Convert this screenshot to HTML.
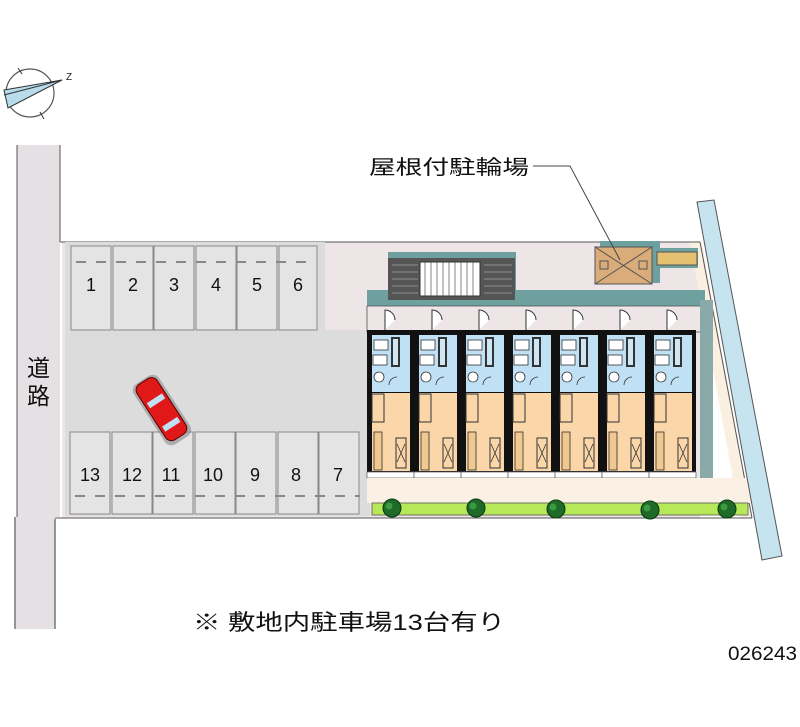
<!DOCTYPE html>
<html><head><meta charset="utf-8"><style>
html,body{margin:0;padding:0;background:#fff;}
svg{display:block;}
text{font-family:"Liberation Sans","Noto Sans CJK JP",sans-serif;}
</style></head><body>
<svg width="800" height="727" viewBox="0 0 800 727" xmlns="http://www.w3.org/2000/svg">
<defs>
<g id="unit">
  <rect x="0" y="330" width="47" height="148" fill="#111"/>
  <rect x="5" y="335" width="38" height="57" fill="#bfe0f5"/>
  <rect x="5" y="393" width="38" height="78" fill="#fad6a8"/>
  <rect x="5" y="394" width="12" height="28" fill="#fad6a8" stroke="#333" stroke-width="1"/>
  <rect x="7" y="340" width="14" height="10" fill="#fff" stroke="#333" stroke-width="0.8"/>
  <rect x="6" y="355" width="14" height="10" fill="#fff" stroke="#333" stroke-width="0.8"/>
  <rect x="24" y="337" width="9" height="30" fill="#333"/>
  <rect x="26" y="339" width="5" height="26" fill="#cfe6f5"/>
  <circle cx="12" cy="377" r="5" fill="#fff" stroke="#333" stroke-width="0.8"/>
  <path d="M22 385 a8 8 0 0 1 8 -8" fill="none" stroke="#333" stroke-width="0.8"/>
  <rect x="7" y="432" width="8" height="38" fill="#f0c890" stroke="#333" stroke-width="0.8"/>
  <rect x="29" y="438" width="10" height="30" fill="#fad6a8" stroke="#333" stroke-width="1"/>
  <path d="M30 444 L38 462 M38 444 L30 462" stroke="#333" stroke-width="0.8"/>
  <path d="M18 330 v-20 a10 10 0 0 1 10 10" fill="#fff" stroke="#333" stroke-width="1"/>
  <rect x="0" y="472" width="47" height="6" fill="#fff" stroke="#666" stroke-width="0.8"/>
</g>
<g id="tree">
  <circle cx="0" cy="0" r="9" fill="#1e6a28" stroke="#0a3a10" stroke-width="1"/>
  <circle cx="-3" cy="-2" r="3.5" fill="#3a9a40"/>
</g>
</defs>

<circle cx="30" cy="93" r="24" fill="none" stroke="#555" stroke-width="1.2"/>
<path d="M4 90 L62 80 L8 108 Z" fill="#b8dcec" stroke="#333" stroke-width="1"/>
<line x1="4" y1="95" x2="62" y2="80" stroke="#333"/>
<text x="66" y="80" font-size="10" fill="#222">Z</text>
<line x1="18" y1="68" x2="22" y2="74" stroke="#333"/>
<line x1="40" y1="112" x2="44" y2="119" stroke="#333"/>

<rect x="17" y="145" width="43" height="372" fill="#e4e0e4"/>
<rect x="15" y="517" width="40" height="112" fill="#e4e0e4"/>
<line x1="17" y1="145" x2="17" y2="517" stroke="#555"/>
<line x1="60" y1="145" x2="60" y2="242" stroke="#555"/>
<line x1="15" y1="517" x2="15" y2="629" stroke="#777" stroke-width="1.5"/>
<line x1="55" y1="519" x2="55" y2="629" stroke="#777" stroke-width="1.5"/>
<text x="27" y="376" font-size="23" fill="#111">道</text>
<text x="27" y="404" font-size="23" fill="#111">路</text>

<rect x="62" y="242" width="640" height="276" fill="#eee5e6"/>
<path d="M702 245 L752 518 L700 518 Z" fill="#fff"/>
<path d="M690 242 L702 242 L752 518 L740 518 Z" fill="#faf0e2"/>
<line x1="60" y1="242" x2="700" y2="242" stroke="#555"/>
<line x1="55" y1="518" x2="752" y2="518" stroke="#555"/>
<line x1="700" y1="242" x2="752" y2="518" stroke="#555"/>
<rect x="65" y="330" width="305" height="100" fill="#dcdcdc"/>
<rect x="65" y="242" width="260" height="90" fill="#dcdcdc"/>
<rect x="65" y="428" width="305" height="88" fill="#dcdcdc"/>
<g fill="#e4e4e4" stroke="#888" stroke-width="1">
  <rect x="71" y="246" width="40" height="84"/><rect x="113" y="246" width="40" height="84"/>
  <rect x="154" y="246" width="40" height="84"/><rect x="196" y="246" width="40" height="84"/>
  <rect x="237" y="246" width="40" height="84"/><rect x="279" y="246" width="38" height="84"/>
  <rect x="70" y="432" width="40" height="82"/><rect x="112" y="432" width="40" height="82"/>
  <rect x="153" y="432" width="40" height="82"/><rect x="195" y="432" width="40" height="82"/>
  <rect x="236" y="432" width="40" height="82"/><rect x="278" y="432" width="40" height="82"/>
  <rect x="319" y="432" width="40" height="82"/>
</g>
<g stroke="#888" stroke-width="2" stroke-dasharray="10,10">
  <line x1="76" y1="262" x2="316" y2="262"/>
  <line x1="75" y1="496" x2="360" y2="496"/>
</g>
<g font-size="18" fill="#111" text-anchor="middle">
  <text x="91" y="291">1</text><text x="133" y="291">2</text><text x="174" y="291">3</text>
  <text x="216" y="291">4</text><text x="257" y="291">5</text><text x="298" y="291">6</text>
  <text x="90" y="481">13</text><text x="132" y="481">12</text><text x="171" y="481">11</text>
  <text x="213" y="481">10</text><text x="255" y="481">9</text><text x="296" y="481">8</text>
  <text x="338" y="481">7</text>
</g>

<g transform="translate(162,410) rotate(-33)">
  <rect x="-15" y="-36" width="30" height="72" rx="8" fill="#888" opacity="0.6"/>
  <rect x="-12" y="-34" width="24" height="66" rx="7" fill="#e01818" stroke="#500" stroke-width="1"/>
  <rect x="-9" y="-14" width="18" height="6" fill="#bfe0f5"/>
  <rect x="-9" y="14" width="18" height="6" fill="#bfe0f5"/>
</g>

<rect x="388" y="252" width="128" height="48" fill="#6fa0a0"/>
<rect x="367" y="290" width="338" height="16" fill="#6fa0a0"/>
<rect x="388" y="258" width="127" height="42" fill="#555"/>
<rect x="420" y="262" width="60" height="34" fill="#fff" stroke="#333"/>
<g stroke="#ccc" stroke-width="0.6">
  <path d="M392 265h26M392 272h26M392 279h26M392 286h26M392 293h26M484 265h28M484 272h28M484 279h28M484 286h28M484 293h28"/>
  <path d="M425 262v34M431 262v34M437 262v34M443 262v34M449 262v34M455 262v34M461 262v34M467 262v34M473 262v34" stroke="#333"/>
</g>
<rect x="367" y="306" width="335" height="26" fill="#eee5e6" stroke="#555" stroke-width="0.8"/>
<rect x="700" y="300" width="13" height="178" fill="#8aaaaa"/>

<use href="#unit" x="367"/><use href="#unit" x="414"/><use href="#unit" x="461"/>
<use href="#unit" x="508"/><use href="#unit" x="555"/><use href="#unit" x="602"/>
<use href="#unit" x="649"/>

<rect x="367" y="478" width="385" height="25" fill="#faf1e4"/>
<rect x="372" y="503" width="376" height="12" fill="#b6e85a" stroke="#555" stroke-width="0.8"/>
<use href="#tree" x="392" y="508"/><use href="#tree" x="476" y="508"/>
<use href="#tree" x="556" y="509"/><use href="#tree" x="650" y="510"/>
<use href="#tree" x="727" y="509"/>

<rect x="600" y="241" width="60" height="42" fill="#6fa0a0"/>
<rect x="595" y="247" width="57" height="37" fill="#d9ac7a" stroke="#555"/>
<path d="M595 247 L652 284 M652 247 L595 284" stroke="#555"/>
<rect x="600" y="261" width="8" height="8" fill="none" stroke="#555"/>
<rect x="639" y="261" width="8" height="8" fill="none" stroke="#555"/>
<rect x="656" y="248" width="42" height="20" fill="#6fa0a0"/>
<rect x="657" y="252" width="40" height="13" fill="#e4c070" stroke="#555"/>

<path d="M697 202 L714 200 L782 556 L762 560 Z" fill="#c6e4f0" stroke="#555" stroke-width="1"/>

<text x="369" y="174" font-size="20" fill="#111" textLength="160" lengthAdjust="spacingAndGlyphs">屋根付駐輪場</text>
<polyline points="533,166 570,166 620,260" fill="none" stroke="#444" stroke-width="1"/>

<text x="193" y="630" font-size="22" fill="#111" textLength="312" lengthAdjust="spacingAndGlyphs">※ 敷地内駐車場13台有り</text>
<text x="728" y="660" font-size="19" fill="#111" textLength="69" lengthAdjust="spacingAndGlyphs">026243</text>
</svg>
</body></html>
